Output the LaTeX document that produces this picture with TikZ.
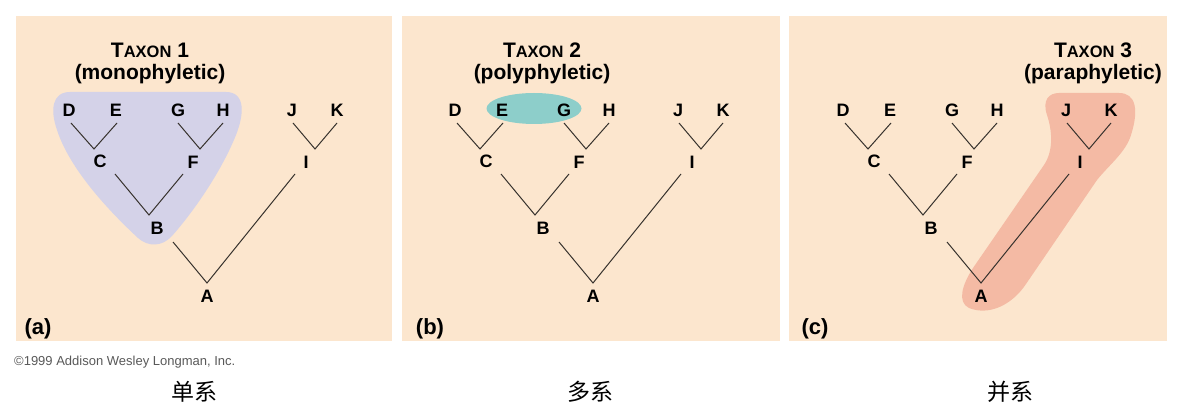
\documentclass[tikz,border=0pt]{standalone}
\usepackage{fontspec}
\setmainfont{Liberation Sans}
\newfontfamily\cjk{Noto Sans CJK SC}
\usepackage{tikz}
\usetikzlibrary{positioning}
\usepackage{xcolor}
\definecolor{peach}{RGB}{252,230,206}
\definecolor{lilac}{RGB}{212,210,232}
\definecolor{aqua}{RGB}{141,206,202}
\definecolor{salmon}{RGB}{244,186,164}
\definecolor{branchcol}{RGB}{55,50,45}
\tikzstyle{taxa}=[inner sep=0pt, font=\bfseries\fontsize{18}{18}\selectfont]
\tikzstyle{title}=[inner sep=0pt, anchor=base, font=\bfseries\fontsize{21}{21}\selectfont]
\tikzstyle{branch}=[draw=branchcol, line width=1pt]
\tikzstyle{panel}=[fill=peach]
\tikzstyle{tag}=[inner sep=0pt, anchor=base, font=\bfseries\fontsize{22}{22}\selectfont]
\tikzstyle{caption}=[inner sep=0pt, font=\cjk\fontsize{23}{23}\selectfont]

% the same tree in every panel
\newcommand{\cladetree}{%
  \node[taxa] (D) at (69,110) {D};
  \node[taxa] (E) at (116,110) {E};
  \node[taxa] (G) at (178,110) {G};
  \node[taxa] (H) at (223,110) {H};
  \node[taxa] (J) at (292,110) {J};
  \node[taxa] (K) at (337,110) {K};
  \node[taxa] (C) at (100,161) {C};
  \node[taxa] (F) at (193,162) {F};
  \node[taxa] (I) at (306,162) {I};
  \node[taxa] (B) at (157,228) {B};
  \node[taxa] (A) at (207,296) {A};
  % branch points
  \coordinate (vC) at (94,149);
  \coordinate (vF) at (200,149);
  \coordinate (vI) at (315,149);
  \coordinate (vB) at (149,215);
  \coordinate (vA) at (207,283);
  % branch ends
  \coordinate (eD) at (71,123);
  \coordinate (eE) at (117,123);
  \coordinate (eG) at (178,123);
  \coordinate (eH) at (223,123);
  \coordinate (eJ) at (293,123);
  \coordinate (eK) at (337,123);
  \coordinate (eC) at (115,174);
  \coordinate (eF) at (183,174);
  \coordinate (eI) at (295,174);
  \coordinate (eB) at (173,242);
  \draw[branch] (eD) -- (vC) -- (eE);
  \draw[branch] (eG) -- (vF) -- (eH);
  \draw[branch] (eJ) -- (vI) -- (eK);
  \draw[branch] (eC) -- (vB) -- (eF);
  \draw[branch] (eB) -- (vA) -- (eI);
}

\begin{document}
\begin{tikzpicture}[x=1pt,y=-1pt]
  \useasboundingbox (0,0) rectangle (1183,419);
  \fill[white] (0,0) rectangle (1183,419);

  % (a) monophyletic
  \begin{scope}
    \fill[panel] (16,16) rectangle (392,341);
    \fill[lilac] (70,92) -- (226,92) .. controls (246,92) and (244,115) .. (236,135)
      .. controls (222,170) and (195,210) .. (172,236)
      .. controls (162,247) and (148,247) .. (138,238)
      .. controls (110,212) and (70,170) .. (57,130)
      .. controls (50,110) and (52,92) .. (70,92) -- cycle;
    \node[title] (taxon1) at (150,58) {T{\fontsize{16.5}{16.5}\selectfont AXON} 1};
    \node[title] (kind1) at (150,80) {(monophyletic)};
    \cladetree
    \node[tag] (tagA) at (38,335) {(a)};
  \end{scope}

  % (b) polyphyletic
  \begin{scope}[xshift=386pt]
    \fill[panel] (16,16) rectangle (394,341);
    \fill[aqua] (148,108.5) ellipse [x radius=47.5, y radius=15.5];
    \node[title] (taxon2) at (156,58) {T{\fontsize{16.5}{16.5}\selectfont AXON} 2};
    \node[title] (kind2) at (156,80) {(polyphyletic)};
    \cladetree
    \node[tag] (tagB) at (44,335) {(b)};
  \end{scope}

  % (c) paraphyletic
  \begin{scope}[xshift=774pt]
    \fill[panel] (15,16) rectangle (393,341);
    \fill[salmon] (285,93) -- (345,93) .. controls (362,93) and (365,110) .. (357,135)
      .. controls (352,152) and (335,165) .. (323,180) -- (252,284)
      .. controls (238,305) and (215,316) .. (195,308)
      .. controls (183,302) and (188,285) .. (199,268) -- (270,165)
      .. controls (280,150) and (278,130) .. (273,115)
      .. controls (268,100) and (275,93) .. (285,93) -- cycle;
    \node[title] (taxon3) at (319,58) {T{\fontsize{16.5}{16.5}\selectfont AXON} 3};
    \node[title] (kind3) at (319,80) {(paraphyletic)};
    \cladetree
    \node[tag] (tagC) at (41,335) {(c)};
  \end{scope}

  \node[inner sep=0pt, anchor=base west, text=black!65, font=\fontsize{13}{13}\selectfont]
    (credit) at (14,366) {\textcopyright1999 Addison Wesley Longman, Inc.};
  \node[caption] (mono) at (194,392) {单系};
  \node[caption] (poly) at (590,392) {多系};
  \node[caption] (para) at (1010,392) {并系};
\end{tikzpicture}
\end{document}
